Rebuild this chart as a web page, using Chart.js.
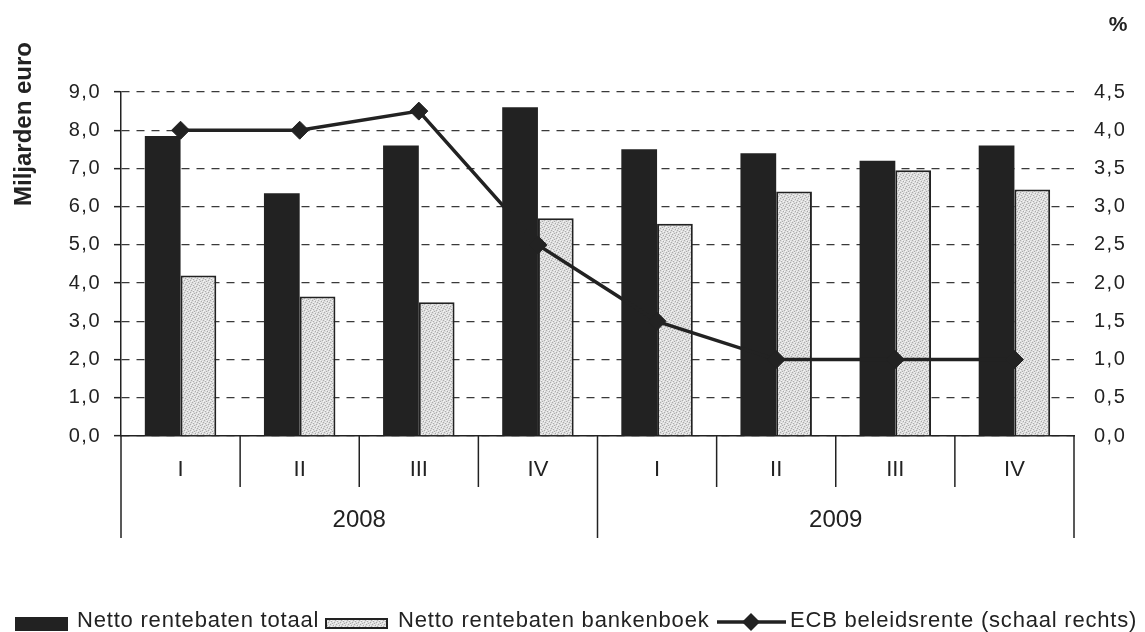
<!DOCTYPE html>
<html lang="nl">
<head>
<meta charset="utf-8">
<title>Netto rentebaten en ECB beleidsrente</title>
<script src="https://cdn.jsdelivr.net/npm/chart.js@4.4.1/dist/chart.umd.min.js"></script>
<style>
  html, body { margin: 0; padding: 0; background: #fff; }
  #wrap { width: 1145px; height: 632px; }
</style>
</head>
<body>
<div id="wrap"><canvas id="grafiek" width="1145" height="632"></canvas></div>
<script>
// ---- gegevens ----
const kwartalen = ['I', 'II', 'III', 'IV', 'I', 'II', 'III', 'IV'];
const jaren = ['2008', '2009'];
const rentebatenTotaal     = [7.85, 6.35, 7.6, 8.6, 7.5, 7.4, 7.2, 7.6];
const rentebatenBankenboek = [4.2, 3.65, 3.5, 5.7, 5.55, 6.4, 6.95, 6.45];
const ecbRente             = [4.0, 4.0, 4.25, 2.5, 1.5, 1.0, 1.0, 1.0];
const labelTotaal  = 'Netto rentebaten totaal';
const labelBanken  = 'Netto rentebaten bankenboek';
const labelEcb     = 'ECB beleidsrente (schaal rechts)';
const titelLinks   = 'Miljarden euro';
const titelRechts  = '%';
const linksMax = 9, linksStap = 1;
const rechtsMax = 4.5, rechtsStap = 0.5;

const ZWART = '#222';
const ctxMain = document.getElementById('grafiek').getContext('2d');

// gespikkeld grijs zoals in het origineel
function stippel() {
  const c = document.createElement('canvas');
  c.width = 6; c.height = 6;
  const g = c.getContext('2d');
  g.fillStyle = '#dcdcdc'; g.fillRect(0, 0, 6, 6);
  g.fillStyle = '#ababab';
  [[0,0],[3,1],[1,3],[4,4],[5,2],[2,5]].forEach(([x, y]) => g.fillRect(x, y, 1, 1));
  g.fillStyle = '#f4f4f4';
  [[2,0],[5,5],[0,4],[3,3],[4,1],[1,2]].forEach(([x, y]) => g.fillRect(x, y, 1, 1));
  return ctxMain.createPattern(c, 'repeat');
}
const grijs = stippel();

const komma = v => Number(v).toFixed(1).replace('.', ',');

// iets ruimere letters, zoals de labels in het origineel
const spatiePlugin = {
  id: 'spatie',
  beforeDraw(chart) { chart.ctx.letterSpacing = '1.5px'; },
  afterDraw(chart) { chart.ctx.letterSpacing = '0px'; }
};

// categorie-as met twee niveaus, astitels en legenda
const extraPlugin = {
  id: 'extra',
  afterDraw(chart) {
    const { ctx, chartArea: ca, scales: { x } } = chart;
    const half = (x.getPixelForValue(1) - x.getPixelForValue(0)) / 2;
    ctx.save();
    ctx.letterSpacing = '0px';
    ctx.strokeStyle = ZWART;
    ctx.lineWidth = 1.5;
    for (let i = 0; i <= kwartalen.length; i++) {
      const px = i < kwartalen.length ? x.getPixelForValue(i) - half : x.getPixelForValue(i - 1) + half;
      const lang = i % 4 === 0;
      ctx.beginPath();
      ctx.moveTo(px, ca.bottom);
      ctx.lineTo(px, ca.bottom + (lang ? 102 : 51));
      ctx.stroke();
    }
    ctx.fillStyle = ZWART;
    ctx.textAlign = 'center';
    ctx.textBaseline = 'middle';
    ctx.font = '22px "Liberation Sans", Arial, sans-serif';
    kwartalen.forEach((k, i) => ctx.fillText(k, x.getPixelForValue(i), ca.bottom + 34));
    ctx.font = '24px "Liberation Sans", Arial, sans-serif';
    jaren.forEach((j, n) => {
      const mid = (x.getPixelForValue(n * 4) + x.getPixelForValue(n * 4 + 3)) / 2;
      ctx.fillText(j, mid, ca.bottom + 84);
    });

    // astitels
    ctx.font = 'bold 24px "Liberation Sans", Arial, sans-serif';
    ctx.save();
    ctx.translate(31, 124);
    ctx.rotate(-Math.PI / 2);
    ctx.textBaseline = 'alphabetic';
    ctx.fillText(titelLinks, 0, 0);
    ctx.restore();
    ctx.font = 'bold 21px "Liberation Sans", Arial, sans-serif';
    ctx.fillText(titelRechts, 1118, 25);

    // legenda
    ctx.fillStyle = ZWART;
    ctx.fillRect(15, 617, 53, 14);
    ctx.fillStyle = grijs;
    ctx.fillRect(326, 619, 61, 9);
    ctx.strokeStyle = ZWART;
    ctx.lineWidth = 2;
    ctx.strokeRect(326, 619, 61, 9);
    ctx.lineWidth = 3.5;
    ctx.beginPath(); ctx.moveTo(717, 622); ctx.lineTo(786, 622); ctx.stroke();
    ctx.fillStyle = ZWART;
    ctx.beginPath();
    ctx.moveTo(751, 613); ctx.lineTo(760, 622); ctx.lineTo(751, 631); ctx.lineTo(742, 622);
    ctx.closePath(); ctx.fill();

    ctx.font = '22px "Liberation Sans", Arial, sans-serif';
    ctx.letterSpacing = '0.8px';
    ctx.textAlign = 'left';
    ctx.fillText(labelTotaal, 77, 621);
    ctx.fillText(labelBanken, 398, 621);
    ctx.fillText(labelEcb, 790, 621);
    ctx.restore();
  }
};

const tickFont = { family: '"Liberation Sans", Arial, sans-serif', size: 20 };

new Chart(ctxMain, {
  type: 'bar',
  data: {
    labels: kwartalen,
    datasets: [
      { type: 'line', label: labelEcb, data: ecbRente, yAxisID: 'y1', order: 0,
        borderColor: ZWART, borderWidth: 3.5, tension: 0,
        pointStyle: 'rectRot', pointRadius: 9, pointBackgroundColor: ZWART, pointBorderColor: ZWART, pointBorderWidth: 1 },
      { label: labelTotaal, data: rentebatenTotaal, yAxisID: 'y', order: 1,
        backgroundColor: ZWART, borderWidth: 0 },
      { label: labelBanken, data: rentebatenBankenboek, yAxisID: 'y', order: 1,
        backgroundColor: grijs, borderColor: ZWART, borderWidth: 2 },
    ]
  },
  options: {
    responsive: false,
    animation: false,
    layout: { padding: { top: 92, bottom: 196, left: 0, right: 0 } },
    datasets: { bar: { categoryPercentage: 0.6, barPercentage: 1.0 } },
    plugins: { legend: { display: false }, tooltip: { enabled: false } },
    scales: {
      x: {
        afterFit: s => { s.height = 0; },
        ticks: { display: false },
        grid: { display: false },
        border: { display: true, color: ZWART, width: 1.5 }
      },
      y: {
        position: 'left', min: 0, max: linksMax,
        afterFit: s => { s.width = 121; },
        ticks: { stepSize: linksStap, padding: 13, color: ZWART, font: tickFont, callback: komma },
        grid: { color: '#3a3a3a', lineWidth: 1.3, tickLength: 7, tickColor: ZWART, tickWidth: 1.5 },
        border: { display: true, color: ZWART, width: 1.5, dash: [8, 7] }
      },
      y1: {
        position: 'right', min: 0, max: rechtsMax,
        afterFit: s => { s.width = 71; },
        ticks: { stepSize: rechtsStap, padding: 20, color: ZWART, font: tickFont, callback: komma },
        grid: { display: false, drawTicks: false },
        border: { display: false }
      }
    }
  },
  plugins: [spatiePlugin, extraPlugin]
});
</script>
</body>
</html>
